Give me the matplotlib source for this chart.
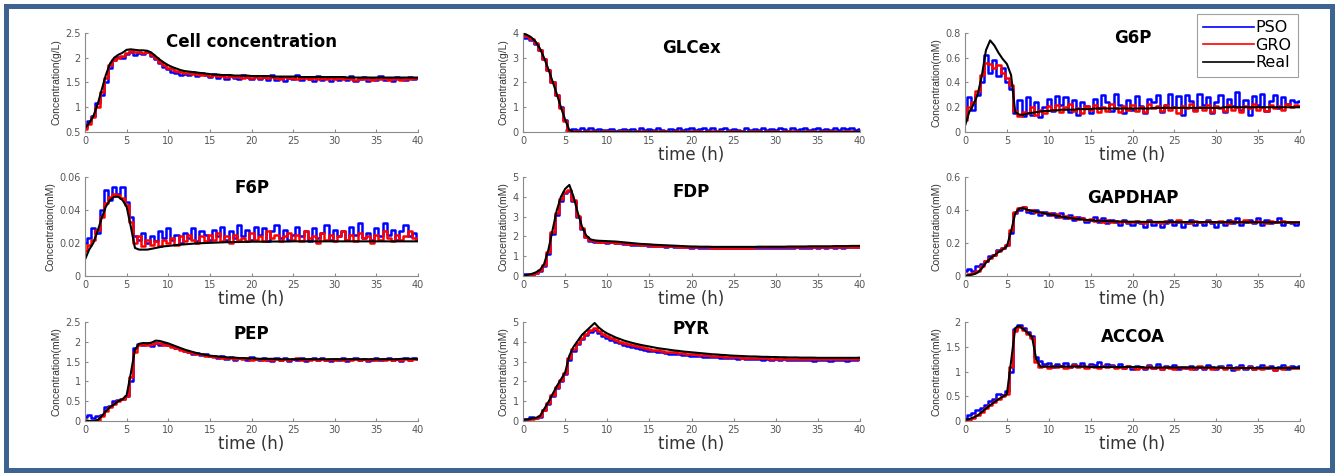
import numpy as np
import matplotlib
matplotlib.use("Agg")
import matplotlib.pyplot as plt
from matplotlib.patches import Rectangle
from matplotlib.ticker import FormatStrFormatter

plt.rcParams.update({
    "font.family": "DejaVu Sans",
    "axes.linewidth": 0.8,
    "xtick.direction": "in",
    "ytick.direction": "in",
    "xtick.major.size": 2.5,
    "ytick.major.size": 2.5,
    "xtick.labelsize": 7,
    "ytick.labelsize": 7,
})

# sampling grid, 0.5 h steps
time_h = np.arange(0, 40.5, 0.5)

titles = ["Cell concentration", "GLCex", "G6P", "F6P", "FDP", "GAPDHAP",
          "PEP", "PYR", "ACCOA"]
ylabels = ["Concentration(g/L)", "Concentration(g/L)", "Concentration(mM)",
           "Concentration(mM)", "Concentration(mM)", "Concentration(mM)",
           "Concentration(mM)", "Concentration(mM)", "Concentration(mM)"]
yticks = [[0.5, 1, 1.5, 2, 2.5], [0, 1, 2, 3, 4], [0, 0.2, 0.4, 0.6, 0.8],
          [0, 0.02, 0.04, 0.06], [0, 1, 2, 3, 4, 5], [0, 0.2, 0.4, 0.6],
          [0, 0.5, 1, 1.5, 2, 2.5], [0, 1, 2, 3, 4, 5], [0, 0.5, 1, 1.5, 2]]
xticks = [0, 5, 10, 15, 20, 25, 30, 35, 40]
legend_labels = ["PSO", "GRO", "Real"]

# ---- Cell concentration ----
cell_pso = [0.60, 0.72, 0.82, 1.08, 1.25, 1.50, 1.80, 1.95, 2.02, 2.00,
            2.08, 2.12, 2.05, 2.10, 2.08, 2.12, 2.04, 1.98, 1.90, 1.82,
            1.78, 1.72, 1.70, 1.66, 1.68, 1.65, 1.72, 1.64, 1.70, 1.66,
            1.62, 1.68, 1.60, 1.66, 1.58, 1.63, 1.60, 1.57, 1.66, 1.62,
            1.57, 1.64, 1.58, 1.61, 1.55, 1.66, 1.56, 1.62, 1.54, 1.60,
            1.57, 1.65, 1.55, 1.62, 1.58, 1.54, 1.63, 1.56, 1.60, 1.53,
            1.59, 1.56, 1.62, 1.55, 1.63, 1.54, 1.58, 1.62, 1.53, 1.60,
            1.56, 1.63, 1.55, 1.59, 1.54, 1.62, 1.57, 1.55, 1.61, 1.58, 1.60]
cell_gro = [0.57, 0.66, 0.80, 1.00, 1.30, 1.60, 1.85, 1.96, 2.00, 2.04,
            2.10, 2.13, 2.11, 2.12, 2.10, 2.11, 2.06, 2.00, 1.92, 1.86,
            1.80, 1.77, 1.74, 1.72, 1.69, 1.70, 1.68, 1.67, 1.66, 1.67,
            1.64, 1.65, 1.63, 1.64, 1.62, 1.63, 1.61, 1.62, 1.60, 1.61,
            1.60, 1.62, 1.60, 1.61, 1.59, 1.61, 1.60, 1.58, 1.61, 1.59,
            1.60, 1.58, 1.60, 1.59, 1.57, 1.60, 1.58, 1.59, 1.57, 1.59,
            1.58, 1.60, 1.57, 1.59, 1.58, 1.56, 1.59, 1.57, 1.58, 1.56,
            1.58, 1.57, 1.59, 1.56, 1.58, 1.57, 1.56, 1.58, 1.57, 1.59, 1.60]
cell_real = [0.58, 0.68, 0.82, 1.05, 1.35, 1.65, 1.88, 2.00, 2.06, 2.10,
             2.16, 2.17, 2.16, 2.15, 2.15, 2.14, 2.10, 2.03, 1.96, 1.90,
             1.85, 1.81, 1.78, 1.75, 1.73, 1.72, 1.71, 1.70, 1.69, 1.68,
             1.67, 1.66, 1.66, 1.65, 1.65, 1.65, 1.64, 1.64, 1.64, 1.64,
             1.63, 1.63, 1.63, 1.63, 1.63, 1.62, 1.62, 1.62, 1.62, 1.62,
             1.62, 1.62, 1.61, 1.61, 1.61, 1.61, 1.61, 1.61, 1.61, 1.61,
             1.61, 1.61, 1.61, 1.60, 1.60, 1.60, 1.60, 1.60, 1.60, 1.60,
             1.60, 1.60, 1.60, 1.60, 1.60, 1.60, 1.60, 1.60, 1.60, 1.60, 1.60]

# ---- GLCex ----
glc_pso = [3.80, 3.78, 3.70, 3.55, 3.30, 2.95, 2.50, 2.00, 1.50, 1.00,
           0.50, 0.10, 0.12, 0.08, 0.15, 0.10, 0.16, 0.08, 0.14, 0.10,
           0.07, 0.12, 0.06, 0.10, 0.14, 0.08, 0.12, 0.06, 0.15, 0.09,
           0.13, 0.07, 0.16, 0.10, 0.06, 0.14, 0.09, 0.18, 0.08, 0.12,
           0.16, 0.07, 0.13, 0.18, 0.09, 0.15, 0.06, 0.12, 0.17, 0.08,
           0.14, 0.10, 0.06, 0.15, 0.09, 0.13, 0.07, 0.16, 0.10, 0.14,
           0.08, 0.17, 0.11, 0.06, 0.15, 0.09, 0.13, 0.18, 0.08, 0.12,
           0.16, 0.07, 0.14, 0.10, 0.17, 0.08, 0.15, 0.11, 0.18, 0.09, 0.14]
glc_gro = [3.92, 3.88, 3.76, 3.60, 3.32, 2.95, 2.50, 2.00, 1.48, 0.95,
           0.45, 0.06, 0.03, 0.05, 0.02, 0.04, 0.03, 0.05, 0.02, 0.04,
           0.03, 0.05, 0.02, 0.06, 0.03, 0.04, 0.02, 0.05, 0.03, 0.06,
           0.02, 0.04, 0.05, 0.03, 0.06, 0.02, 0.04, 0.03, 0.05, 0.02,
           0.06, 0.03, 0.04, 0.02, 0.05, 0.03, 0.06, 0.04, 0.02, 0.05,
           0.03, 0.04, 0.06, 0.02, 0.05, 0.03, 0.04, 0.02, 0.06, 0.03,
           0.05, 0.02, 0.04, 0.06, 0.03, 0.05, 0.02, 0.04, 0.03, 0.06,
           0.02, 0.05, 0.03, 0.04, 0.06, 0.02, 0.05, 0.03, 0.04, 0.02, 0.03]
glc_real = [3.98, 3.92, 3.82, 3.65, 3.38, 3.00, 2.55, 2.05, 1.55, 1.00,
            0.50, 0.08, 0.00, 0.00, 0.00, 0.00, 0.00, 0.00, 0.00, 0.00,
            0.00, 0.00, 0.00, 0.00, 0.00, 0.00, 0.00, 0.00, 0.00, 0.00,
            0.00, 0.00, 0.00, 0.00, 0.00, 0.00, 0.00, 0.00, 0.00, 0.00,
            0.00, 0.00, 0.00, 0.00, 0.00, 0.00, 0.00, 0.00, 0.00, 0.00,
            0.00, 0.00, 0.00, 0.00, 0.00, 0.00, 0.00, 0.00, 0.00, 0.00,
            0.00, 0.00, 0.00, 0.00, 0.00, 0.00, 0.00, 0.00, 0.00, 0.00,
            0.00, 0.00, 0.00, 0.00, 0.00, 0.00, 0.00, 0.00, 0.00, 0.00, 0.00]

# ---- G6P ----
g6p_pso = [0.12, 0.28, 0.18, 0.30, 0.40, 0.62, 0.48, 0.58, 0.45, 0.52,
           0.40, 0.35, 0.15, 0.26, 0.13, 0.28, 0.14, 0.24, 0.12, 0.20,
           0.27, 0.17, 0.29, 0.22, 0.28, 0.16, 0.26, 0.14, 0.24, 0.21,
           0.15, 0.27, 0.19, 0.30, 0.24, 0.17, 0.31, 0.22, 0.15, 0.26,
           0.18, 0.29, 0.21, 0.15, 0.27, 0.24, 0.30, 0.16, 0.22, 0.31,
           0.20, 0.29, 0.14, 0.30, 0.25, 0.18, 0.31, 0.22, 0.28, 0.15,
           0.24, 0.30, 0.16, 0.27, 0.21, 0.32, 0.18, 0.26, 0.14, 0.29,
           0.22, 0.31, 0.17, 0.25, 0.30, 0.19, 0.28, 0.23, 0.26, 0.24, 0.25]
g6p_gro = [0.10, 0.20, 0.24, 0.33, 0.46, 0.56, 0.55, 0.52, 0.54, 0.48,
           0.44, 0.38, 0.17, 0.13, 0.16, 0.15, 0.20, 0.14, 0.18, 0.15,
           0.21, 0.18, 0.22, 0.16, 0.20, 0.23, 0.17, 0.19, 0.15, 0.21,
           0.18, 0.22, 0.16, 0.20, 0.17, 0.23, 0.19, 0.16, 0.21, 0.18,
           0.22, 0.17, 0.20, 0.16, 0.23, 0.19, 0.21, 0.17, 0.22, 0.18,
           0.20, 0.15, 0.21, 0.19, 0.23, 0.17, 0.20, 0.18, 0.22, 0.16,
           0.21, 0.19, 0.17, 0.22, 0.18, 0.20, 0.16, 0.21, 0.19, 0.23,
           0.18, 0.20, 0.17, 0.22, 0.19, 0.21, 0.18, 0.23, 0.20, 0.22, 0.21]
g6p_real = [0.05, 0.16, 0.22, 0.30, 0.45, 0.66, 0.74, 0.70, 0.64, 0.59,
            0.55, 0.46, 0.16, 0.14, 0.14, 0.15, 0.155, 0.16, 0.165, 0.17,
            0.17, 0.175, 0.175, 0.18, 0.18, 0.18, 0.18, 0.185, 0.185, 0.185,
            0.185, 0.19, 0.19, 0.19, 0.19, 0.19, 0.19, 0.19, 0.19, 0.19,
            0.19, 0.19, 0.19, 0.19, 0.19, 0.195, 0.195, 0.195, 0.195, 0.195,
            0.195, 0.195, 0.195, 0.195, 0.195, 0.195, 0.195, 0.195, 0.195, 0.195,
            0.195, 0.195, 0.20, 0.20, 0.20, 0.20, 0.20, 0.20, 0.20, 0.20,
            0.20, 0.20, 0.20, 0.20, 0.20, 0.20, 0.20, 0.20, 0.20, 0.20, 0.20]

# ---- F6P ----
f6p_pso = [0.020, 0.023, 0.029, 0.026, 0.040, 0.052, 0.046, 0.054, 0.050, 0.054,
           0.045, 0.036, 0.024, 0.022, 0.026, 0.020, 0.024, 0.021, 0.027, 0.023,
           0.029, 0.022, 0.025, 0.020, 0.026, 0.023, 0.029, 0.021, 0.027, 0.025,
           0.022, 0.028, 0.024, 0.030, 0.022, 0.027, 0.023, 0.031, 0.024, 0.028,
           0.022, 0.030, 0.025, 0.029, 0.021, 0.027, 0.031, 0.023, 0.028, 0.022,
           0.025, 0.030, 0.024, 0.027, 0.021, 0.029, 0.023, 0.026, 0.031, 0.022,
           0.028, 0.024, 0.027, 0.022, 0.030, 0.025, 0.032, 0.023, 0.026, 0.022,
           0.029, 0.024, 0.032, 0.025, 0.028, 0.022, 0.027, 0.031, 0.024, 0.026, 0.022]
f6p_gro = [0.015, 0.019, 0.022, 0.028, 0.036, 0.044, 0.048, 0.050, 0.049, 0.047,
           0.043, 0.033, 0.020, 0.024, 0.018, 0.022, 0.019, 0.021, 0.018, 0.022,
           0.020, 0.023, 0.019, 0.024, 0.021, 0.025, 0.022, 0.020, 0.024, 0.021,
           0.025, 0.022, 0.026, 0.021, 0.024, 0.020, 0.025, 0.022, 0.023, 0.021,
           0.026, 0.022, 0.024, 0.021, 0.027, 0.023, 0.025, 0.021, 0.024, 0.026,
           0.022, 0.025, 0.021, 0.027, 0.023, 0.024, 0.020, 0.026, 0.022, 0.025,
           0.021, 0.024, 0.027, 0.022, 0.025, 0.021, 0.026, 0.023, 0.024, 0.020,
           0.025, 0.022, 0.027, 0.023, 0.021, 0.025, 0.022, 0.024, 0.027, 0.023, 0.022]
f6p_real = [0.010, 0.016, 0.020, 0.027, 0.035, 0.042, 0.046, 0.048, 0.048, 0.046,
            0.042, 0.030, 0.017, 0.016, 0.016, 0.016, 0.0165, 0.017, 0.0175, 0.018,
            0.0182, 0.0185, 0.0188, 0.019, 0.0192, 0.0194, 0.0196, 0.0198, 0.0199, 0.020,
            0.0201, 0.0202, 0.0203, 0.0204, 0.0205, 0.0205, 0.0206, 0.0206, 0.0207, 0.0207,
            0.0208, 0.0208, 0.0208, 0.0208, 0.0208, 0.0209, 0.0209, 0.0209, 0.0209, 0.0209,
            0.021, 0.021, 0.021, 0.021, 0.021, 0.021, 0.021, 0.021, 0.021, 0.021,
            0.021, 0.021, 0.021, 0.021, 0.021, 0.021, 0.021, 0.021, 0.021, 0.021,
            0.021, 0.021, 0.021, 0.021, 0.021, 0.021, 0.021, 0.021, 0.021, 0.021, 0.021]

# ---- FDP ----
fdp_pso = [0.08, 0.10, 0.07, 0.14, 0.26, 0.50, 1.10, 2.10, 3.10, 3.80,
           4.20, 4.30, 3.80, 3.00, 2.35, 1.95, 1.78, 1.72, 1.70, 1.70,
           1.68, 1.70, 1.66, 1.66, 1.63, 1.62, 1.58, 1.58, 1.55, 1.55,
           1.52, 1.53, 1.50, 1.51, 1.48, 1.49, 1.46, 1.47, 1.44, 1.46,
           1.43, 1.44, 1.42, 1.43, 1.41, 1.43, 1.41, 1.42, 1.40, 1.42,
           1.41, 1.43, 1.40, 1.42, 1.41, 1.42, 1.40, 1.43, 1.41, 1.42,
           1.40, 1.42, 1.41, 1.43, 1.41, 1.44, 1.42, 1.43, 1.41, 1.44,
           1.42, 1.45, 1.43, 1.44, 1.42, 1.45, 1.43, 1.46, 1.44, 1.45, 1.47]
fdp_gro = [0.02, 0.04, 0.09, 0.16, 0.28, 0.55, 1.20, 2.20, 3.20, 3.90,
           4.25, 4.35, 3.85, 3.05, 2.40, 1.98, 1.80, 1.76, 1.74, 1.73,
           1.72, 1.71, 1.69, 1.68, 1.66, 1.64, 1.62, 1.60, 1.58, 1.57,
           1.55, 1.54, 1.53, 1.52, 1.51, 1.50, 1.49, 1.48, 1.47, 1.46,
           1.45, 1.45, 1.44, 1.44, 1.44, 1.43, 1.43, 1.43, 1.43, 1.43,
           1.43, 1.43, 1.43, 1.43, 1.43, 1.44, 1.44, 1.44, 1.44, 1.44,
           1.44, 1.44, 1.44, 1.45, 1.45, 1.45, 1.45, 1.45, 1.46, 1.46,
           1.46, 1.46, 1.46, 1.46, 1.47, 1.47, 1.47, 1.47, 1.48, 1.48, 1.48]
fdp_real = [0.02, 0.05, 0.10, 0.18, 0.30, 0.60, 1.30, 2.30, 3.30, 4.00,
            4.40, 4.60, 4.00, 3.20, 2.50, 2.05, 1.85, 1.80, 1.78, 1.77,
            1.76, 1.75, 1.74, 1.72, 1.70, 1.68, 1.66, 1.64, 1.62, 1.61,
            1.60, 1.58, 1.57, 1.56, 1.55, 1.54, 1.53, 1.52, 1.51, 1.50,
            1.49, 1.49, 1.48, 1.48, 1.48, 1.47, 1.47, 1.47, 1.47, 1.47,
            1.47, 1.47, 1.47, 1.47, 1.47, 1.47, 1.48, 1.48, 1.48, 1.48,
            1.48, 1.48, 1.48, 1.49, 1.49, 1.49, 1.49, 1.49, 1.50, 1.50,
            1.50, 1.50, 1.50, 1.50, 1.51, 1.51, 1.51, 1.51, 1.52, 1.52, 1.52]

# ---- GAPDHAP ----
gap_pso = [0.03, 0.04, 0.03, 0.06, 0.07, 0.09, 0.12, 0.13, 0.16, 0.17,
           0.19, 0.26, 0.38, 0.40, 0.42, 0.39, 0.38, 0.40, 0.37, 0.39,
           0.37, 0.38, 0.36, 0.38, 0.35, 0.37, 0.34, 0.36, 0.35, 0.33,
           0.34, 0.36, 0.33, 0.35, 0.32, 0.34, 0.33, 0.31, 0.34, 0.32,
           0.31, 0.33, 0.32, 0.30, 0.34, 0.31, 0.33, 0.30, 0.32, 0.34,
           0.31, 0.33, 0.30, 0.32, 0.34, 0.31, 0.33, 0.31, 0.34, 0.32,
           0.30, 0.33, 0.31, 0.34, 0.32, 0.35, 0.31, 0.33, 0.34, 0.32,
           0.35, 0.31, 0.34, 0.32, 0.33, 0.35, 0.31, 0.33, 0.32, 0.31, 0.32]
gap_gro = [0.00, 0.01, 0.02, 0.03, 0.06, 0.09, 0.11, 0.13, 0.15, 0.17,
           0.19, 0.28, 0.39, 0.41, 0.42, 0.40, 0.40, 0.39, 0.39, 0.38,
           0.38, 0.37, 0.375, 0.36, 0.365, 0.35, 0.355, 0.345, 0.35, 0.34,
           0.345, 0.335, 0.34, 0.33, 0.34, 0.33, 0.335, 0.325, 0.335, 0.33,
           0.325, 0.335, 0.33, 0.32, 0.335, 0.325, 0.33, 0.32, 0.335, 0.325,
           0.33, 0.34, 0.325, 0.33, 0.32, 0.335, 0.33, 0.325, 0.335, 0.33,
           0.325, 0.335, 0.33, 0.32, 0.335, 0.33, 0.325, 0.34, 0.33, 0.325,
           0.335, 0.33, 0.32, 0.335, 0.33, 0.325, 0.335, 0.33, 0.325, 0.33, 0.33]
gap_real = [0.00, 0.005, 0.01, 0.02, 0.045, 0.08, 0.105, 0.125, 0.145, 0.16,
            0.18, 0.27, 0.38, 0.41, 0.41, 0.40, 0.395, 0.39, 0.385, 0.38,
            0.375, 0.37, 0.365, 0.36, 0.356, 0.352, 0.348, 0.345, 0.342, 0.34,
            0.338, 0.336, 0.335, 0.334, 0.333, 0.332, 0.331, 0.330, 0.330, 0.329,
            0.329, 0.329, 0.328, 0.328, 0.328, 0.328, 0.328, 0.328, 0.328, 0.328,
            0.327, 0.327, 0.327, 0.327, 0.327, 0.327, 0.327, 0.327, 0.327, 0.327,
            0.326, 0.326, 0.326, 0.326, 0.326, 0.326, 0.326, 0.326, 0.326, 0.326,
            0.325, 0.325, 0.325, 0.325, 0.325, 0.325, 0.325, 0.325, 0.325, 0.325, 0.325]

# ---- PEP ----
pep_pso = [0.10, 0.15, 0.08, 0.12, 0.14, 0.35, 0.38, 0.50, 0.52, 0.55,
           0.62, 1.00, 1.85, 1.95, 1.93, 1.96, 1.90, 1.98, 1.93, 1.96,
           1.92, 1.90, 1.85, 1.83, 1.78, 1.74, 1.70, 1.72, 1.66, 1.68,
           1.64, 1.63, 1.60, 1.65, 1.57, 1.62, 1.55, 1.60, 1.58, 1.54,
           1.62, 1.56, 1.53, 1.58, 1.55, 1.52, 1.58, 1.54, 1.60, 1.51,
           1.57, 1.54, 1.59, 1.52, 1.56, 1.60, 1.53, 1.58, 1.55, 1.51,
           1.57, 1.54, 1.59, 1.52, 1.56, 1.58, 1.53, 1.57, 1.51, 1.55,
           1.58, 1.53, 1.56, 1.59, 1.54, 1.57, 1.52, 1.60, 1.55, 1.58, 1.57]
pep_gro = [0.02, 0.00, 0.01, 0.03, 0.12, 0.26, 0.36, 0.42, 0.50, 0.56,
           0.64, 1.10, 1.75, 1.92, 1.94, 1.91, 1.95, 1.97, 1.96, 1.93,
           1.92, 1.88, 1.84, 1.80, 1.77, 1.74, 1.72, 1.69, 1.68, 1.65,
           1.64, 1.62, 1.61, 1.60, 1.59, 1.58, 1.57, 1.59, 1.56, 1.58,
           1.55, 1.57, 1.56, 1.54, 1.57, 1.55, 1.56, 1.54, 1.57, 1.55,
           1.56, 1.58, 1.55, 1.56, 1.54, 1.57, 1.55, 1.56, 1.54, 1.57,
           1.55, 1.56, 1.54, 1.57, 1.55, 1.56, 1.54, 1.57, 1.55, 1.56,
           1.54, 1.57, 1.55, 1.56, 1.55, 1.57, 1.54, 1.56, 1.55, 1.57, 1.57]
pep_real = [0.00, 0.00, 0.00, 0.02, 0.12, 0.25, 0.35, 0.42, 0.50, 0.55,
            0.65, 1.20, 1.80, 1.95, 1.97, 1.96, 1.98, 2.03, 2.02, 1.99,
            1.96, 1.92, 1.88, 1.84, 1.80, 1.77, 1.74, 1.71, 1.69, 1.67,
            1.65, 1.64, 1.63, 1.62, 1.61, 1.60, 1.60, 1.59, 1.59, 1.58,
            1.58, 1.58, 1.57, 1.57, 1.57, 1.57, 1.56, 1.56, 1.56, 1.56,
            1.56, 1.56, 1.56, 1.56, 1.56, 1.56, 1.56, 1.56, 1.56, 1.56,
            1.56, 1.56, 1.56, 1.56, 1.56, 1.56, 1.56, 1.56, 1.56, 1.56,
            1.56, 1.56, 1.56, 1.56, 1.56, 1.56, 1.57, 1.57, 1.57, 1.57, 1.57]

# ---- PYR ----
pyr_pso = [0.10, 0.12, 0.18, 0.15, 0.22, 0.55, 0.88, 1.25, 1.65, 2.00,
           2.35, 3.10, 3.55, 3.90, 4.15, 4.35, 4.50, 4.62, 4.45, 4.30,
           4.18, 4.10, 3.98, 3.92, 3.85, 3.80, 3.72, 3.70, 3.63, 3.60,
           3.55, 3.52, 3.47, 3.46, 3.42, 3.40, 3.37, 3.36, 3.33, 3.32,
           3.30, 3.27, 3.28, 3.24, 3.25, 3.21, 3.23, 3.18, 3.20, 3.16,
           3.18, 3.14, 3.17, 3.12, 3.15, 3.11, 3.14, 3.10, 3.13, 3.09,
           3.12, 3.08, 3.11, 3.07, 3.10, 3.06, 3.10, 3.07, 3.09, 3.05,
           3.10, 3.06, 3.09, 3.05, 3.08, 3.06, 3.09, 3.04, 3.08, 3.10, 3.15]
pyr_gro = [0.03, 0.05, 0.10, 0.14, 0.24, 0.58, 0.92, 1.30, 1.70, 2.05,
           2.40, 3.20, 3.65, 3.95, 4.20, 4.40, 4.58, 4.72, 4.55, 4.40,
           4.28, 4.18, 4.08, 4.00, 3.93, 3.87, 3.82, 3.77, 3.72, 3.68,
           3.64, 3.60, 3.57, 3.54, 3.51, 3.48, 3.46, 3.44, 3.42, 3.40,
           3.38, 3.36, 3.34, 3.33, 3.31, 3.29, 3.28, 3.26, 3.25, 3.24,
           3.22, 3.21, 3.20, 3.19, 3.18, 3.18, 3.17, 3.16, 3.16, 3.15,
           3.15, 3.14, 3.14, 3.13, 3.13, 3.13, 3.12, 3.12, 3.12, 3.12,
           3.11, 3.11, 3.11, 3.11, 3.11, 3.12, 3.11, 3.12, 3.11, 3.13, 3.15]
pyr_real = [0.05, 0.08, 0.12, 0.15, 0.25, 0.60, 0.95, 1.35, 1.75, 2.10,
            2.45, 3.30, 3.75, 4.05, 4.35, 4.55, 4.75, 4.95, 4.72, 4.55,
            4.42, 4.32, 4.22, 4.14, 4.06, 4.00, 3.94, 3.89, 3.84, 3.80,
            3.76, 3.72, 3.68, 3.65, 3.62, 3.59, 3.56, 3.54, 3.51, 3.49,
            3.47, 3.45, 3.43, 3.41, 3.39, 3.37, 3.36, 3.34, 3.33, 3.31,
            3.30, 3.29, 3.28, 3.27, 3.26, 3.26, 3.25, 3.24, 3.24, 3.23,
            3.23, 3.22, 3.22, 3.21, 3.21, 3.21, 3.20, 3.20, 3.20, 3.20,
            3.19, 3.19, 3.19, 3.19, 3.19, 3.19, 3.19, 3.19, 3.19, 3.19, 3.20]

# ---- ACCOA ----
acc_pso = [0.05, 0.12, 0.16, 0.22, 0.27, 0.33, 0.40, 0.45, 0.55, 0.52,
           0.60, 1.00, 1.85, 1.94, 1.88, 1.80, 1.72, 1.30, 1.22, 1.15,
           1.18, 1.10, 1.15, 1.12, 1.17, 1.09, 1.15, 1.12, 1.18, 1.10,
           1.16, 1.13, 1.19, 1.11, 1.16, 1.13, 1.10, 1.15, 1.08, 1.12,
           1.06, 1.12, 1.09, 1.05, 1.13, 1.08, 1.15, 1.06, 1.12, 1.09,
           1.14, 1.05, 1.10, 1.08, 1.12, 1.06, 1.10, 1.05, 1.13, 1.09,
           1.06, 1.12, 1.08, 1.14, 1.04, 1.10, 1.13, 1.06, 1.11, 1.05,
           1.09, 1.14, 1.07, 1.12, 1.04, 1.10, 1.13, 1.06, 1.11, 1.09, 1.12]
acc_gro = [0.00, 0.03, 0.07, 0.12, 0.19, 0.27, 0.33, 0.39, 0.45, 0.50,
           0.55, 1.10, 1.82, 1.90, 1.84, 1.76, 1.68, 1.20, 1.10, 1.12,
           1.08, 1.11, 1.09, 1.12, 1.08, 1.10, 1.13, 1.09, 1.11, 1.08,
           1.12, 1.10, 1.08, 1.11, 1.09, 1.12, 1.08, 1.10, 1.07, 1.11,
           1.09, 1.06, 1.10, 1.08, 1.11, 1.07, 1.09, 1.06, 1.10, 1.08,
           1.05, 1.09, 1.07, 1.10, 1.06, 1.08, 1.11, 1.07, 1.09, 1.06,
           1.08, 1.10, 1.06, 1.09, 1.07, 1.05, 1.09, 1.07, 1.10, 1.06,
           1.08, 1.05, 1.09, 1.07, 1.04, 1.08, 1.06, 1.09, 1.07, 1.08, 1.08]
acc_real = [0.02, 0.04, 0.07, 0.11, 0.18, 0.25, 0.32, 0.38, 0.44, 0.49,
            0.54, 1.20, 1.88, 1.92, 1.85, 1.78, 1.70, 1.25, 1.10, 1.10,
            1.10, 1.10, 1.10, 1.10, 1.10, 1.10, 1.10, 1.10, 1.10, 1.10,
            1.09, 1.09, 1.09, 1.09, 1.09, 1.09, 1.09, 1.09, 1.09, 1.09,
            1.09, 1.09, 1.09, 1.08, 1.08, 1.08, 1.08, 1.08, 1.08, 1.08,
            1.08, 1.08, 1.08, 1.08, 1.08, 1.08, 1.08, 1.08, 1.08, 1.08,
            1.08, 1.08, 1.07, 1.07, 1.07, 1.07, 1.07, 1.07, 1.07, 1.07,
            1.07, 1.07, 1.07, 1.07, 1.07, 1.07, 1.07, 1.07, 1.07, 1.07, 1.07]

series = [
    (cell_pso, cell_gro, cell_real),
    (glc_pso, glc_gro, glc_real),
    (g6p_pso, g6p_gro, g6p_real),
    (f6p_pso, f6p_gro, f6p_real),
    (fdp_pso, fdp_gro, fdp_real),
    (gap_pso, gap_gro, gap_real),
    (pep_pso, pep_gro, pep_real),
    (pyr_pso, pyr_gro, pyr_real),
    (acc_pso, acc_gro, acc_real),
]

W, H = 1337, 475
fig = plt.figure(figsize=(W / 100, H / 100), dpi=100)

# axes boxes in pixels (left, top, width, height)
col_left = [85, 523, 965]
col_w = [333, 337, 335]
row_top = [33, 177, 322]
ax_h = 99
title_y = [0.91, 0.85, 0.95, 0.89, 0.85, 0.79, 0.88, 0.93, 0.85]

gray = "#555555"
for k in range(9):
    r, c = divmod(k, 3)
    rect = [col_left[c] / W, 1 - (row_top[r] + ax_h) / H, col_w[c] / W, ax_h / H]
    ax = fig.add_axes(rect)
    pso, gro, real = series[k]
    l1, = ax.plot(time_h, pso, color="#0000ff", lw=1.8, drawstyle="steps-mid")
    l2, = ax.plot(time_h, gro, color="#ff0000", lw=1.8, drawstyle="steps-mid")
    l3, = ax.plot(time_h, real, color="black", lw=1.5)
    ax.set_xlim(0, 40)
    ax.set_ylim(yticks[k][0], yticks[k][-1])
    ax.set_xticks(xticks)
    ax.set_yticks(yticks[k])
    ax.yaxis.set_major_formatter(FormatStrFormatter("%g"))
    ax.xaxis.set_major_formatter(FormatStrFormatter("%g"))
    for side in ["top", "right"]:
        ax.spines[side].set_visible(False)
    for side in ["left", "bottom"]:
        ax.spines[side].set_color("#8a8a8a")
    ax.tick_params(colors="#8a8a8a", labelcolor=gray, pad=3)
    ax.set_ylabel(ylabels[k], fontsize=7.5, color="#333333",
                  family="Liberation Sans", labelpad=3)
    if k != 0:
        ax.set_xlabel("time (h)", fontsize=12, color="#333333", labelpad=0)
    ax.text(0.5, title_y[k], titles[k], transform=ax.transAxes, ha="center",
            va="center", fontsize=12, fontweight="bold")
    if k == 2:
        handles = [l1, l2, l3]

leg = fig.legend(handles, legend_labels, loc="upper right",
                 bbox_to_anchor=(1298 / W, 1 - 14 / H), fontsize=11.5,
                 frameon=True, fancybox=False, borderaxespad=0,
                 handlelength=3.2, handletextpad=0.1, labelspacing=0.15,
                 borderpad=0.4)
leg.get_frame().set_edgecolor("#888888")
leg.get_frame().set_linewidth(0.8)
for h in leg.get_lines():
    h.set_linewidth(1.2)

# outer blue frame
fig.patches.append(Rectangle((5.5 / W, 5.5 / H), (W - 11) / W, (H - 11) / H,
                             transform=fig.transFigure, fill=False,
                             edgecolor="#3d6391", linewidth=3.6))

fig.savefig("out.png", dpi=100)
